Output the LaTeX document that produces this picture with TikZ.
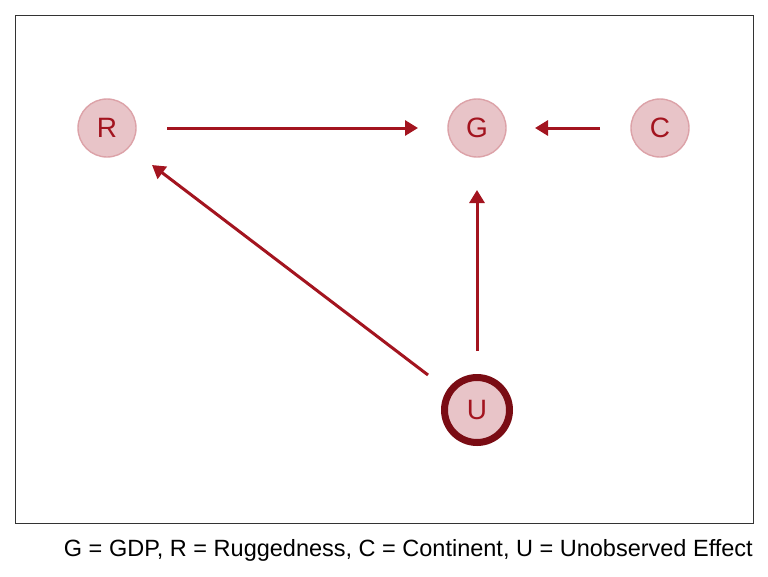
\documentclass[tikz,border=0pt]{standalone}
\usepackage{fontspec}
\setmainfont{Liberation Sans}
\usetikzlibrary{arrows.meta}
\definecolor{nodefill}{HTML}{E8C4C8}
\definecolor{nodeedge}{HTML}{DCA2A8}
\definecolor{darkred}{HTML}{A3141F}
\definecolor{uedge}{HTML}{7A0C14}
\tikzset{
  var/.style={circle, minimum size=58pt, inner sep=0pt, fill=nodefill, draw=nodeedge, line width=1.4pt, text=darkred, font=\fontsize{28}{32}\selectfont},
  latent/.style={var, draw=uedge, line width=7pt, minimum size=65pt},
  edge/.style={draw=darkred, line width=3pt, -{Triangle[length=13pt,width=15pt]}}
}
\begin{document}
\begin{tikzpicture}[x=1pt,y=-1pt]
\useasboundingbox (0,0) rectangle (768,576);
\draw[line width=0.9pt, black!80] (15,15) rectangle (753,523);
\node[var] (R) at (107,128) {R};
\node[var] (G) at (477,128) {G};
\node[var] (C) at (660,128) {C};
\node[latent] (U) at (477,410) {U};
\coordinate (rs) at (167,128); \coordinate (ge) at (418,128);
\coordinate (cs) at (600,128); \coordinate (gc) at (535,128);
\coordinate (us) at (477,351); \coordinate (gu) at (477,190);
\coordinate (ur) at (428,375); \coordinate (re) at (152,165);
\path[edge] (rs) -- (ge);
\path[edge] (cs) -- (gc);
\path[edge] (us) -- (gu);
\path[edge] (ur) -- (re);
\node[anchor=base east, inner sep=0pt, font=\fontsize{23.5}{27}\selectfont] (cap) at (753,556) {G = GDP, R = Ruggedness, C = Continent, U = Unobserved Effect};
\end{tikzpicture}
\end{document}
